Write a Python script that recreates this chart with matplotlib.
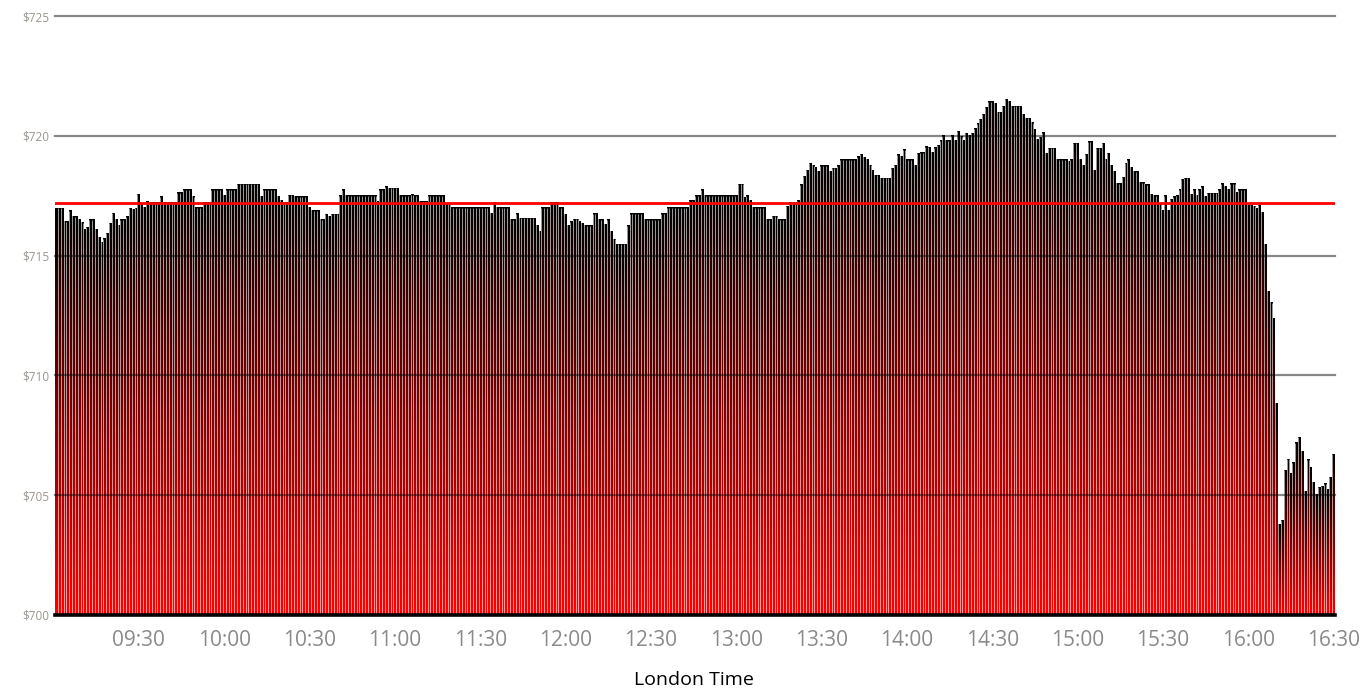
import numpy as np
import matplotlib
matplotlib.use("Agg")
import matplotlib.pyplot as plt
from matplotlib.colors import LinearSegmentedColormap

# Minute-by-minute prices, grouped by the half hour they end in
p_0930 = [716.97, 716.97, 716.97, 716.42, 716.42, 716.88, 716.63, 716.63, 716.49, 716.38,
          716.10, 716.18, 716.49, 716.49, 716.07, 715.75, 715.54, 715.71, 715.93, 716.35,
          716.77, 716.49, 716.24, 716.49, 716.49, 716.63, 716.97, 716.94, 716.97, 717.56]
p_1000 = [717.15, 717.0, 717.25, 717.2, 717.2, 717.2, 717.2, 717.46, 717.2, 717.2,
          717.2, 717.2, 717.2, 717.63, 717.63, 717.74, 717.74, 717.74, 717.46, 717.0,
          717.0, 717.0, 717.2, 717.2, 717.2, 717.74, 717.74, 717.74, 717.74, 717.52]
p_1030 = [717.74, 717.74, 717.74, 717.74, 717.97, 717.97, 717.97, 717.97, 717.97, 717.97,
          717.97, 717.97, 717.46, 717.74, 717.74, 717.74, 717.74, 717.74, 717.46, 717.32,
          717.2, 717.2, 717.52, 717.52, 717.46, 717.46, 717.46, 717.46, 717.46, 717.0]
p_1100 = [716.87, 716.87, 716.87, 716.49, 716.49, 716.72, 716.65, 716.72, 716.72, 716.72,
          717.49, 717.74, 717.49, 717.49, 717.49, 717.49, 717.49, 717.49, 717.49, 717.49,
          717.49, 717.49, 717.49, 717.25, 717.74, 717.74, 717.88, 717.81, 717.81, 717.81]
p_1130 = [717.81, 717.49, 717.49, 717.49, 717.49, 717.53, 717.49, 717.49, 717.25, 717.25,
          717.25, 717.49, 717.49, 717.49, 717.49, 717.49, 717.49, 717.18, 717.18, 717.0,
          717.0, 717.0, 717.0, 717.0, 717.0, 717.0, 717.0, 717.0, 717.0, 717.0]
p_1200 = [717.0, 717.0, 717.0, 716.74, 717.22, 717.0, 717.0, 717.0, 717.0, 717.0,
          716.49, 716.49, 716.74, 716.55, 716.55, 716.55, 716.55, 716.55, 716.55, 716.24,
          716.0, 717.0, 717.0, 717.0, 717.22, 717.22, 717.22, 717.0, 717.0, 716.72]
p_1230 = [716.24, 716.42, 716.51, 716.51, 716.42, 716.35, 716.24, 716.24, 716.24, 716.74,
          716.74, 716.49, 716.49, 716.28, 716.49, 716.0, 715.68, 715.48, 715.48, 715.48,
          715.48, 716.24, 716.74, 716.74, 716.74, 716.74, 716.74, 716.49, 716.49, 716.49]
p_1300 = [716.49, 716.49, 716.49, 716.74, 716.74, 717.0, 717.0, 717.0, 717.0, 717.0,
          717.0, 717.0, 717.0, 717.28, 717.28, 717.49, 717.49, 717.74, 717.49, 717.49,
          717.49, 717.49, 717.49, 717.49, 717.49, 717.49, 717.49, 717.49, 717.49, 717.49]
p_1330 = [717.97, 717.97, 717.42, 717.49, 717.28, 717.0, 717.0, 717.0, 717.0, 717.0,
          716.49, 716.49, 716.65, 716.65, 716.49, 716.49, 716.49, 717.07, 717.22, 717.22,
          717.22, 717.28, 717.95, 718.32, 718.57, 718.85, 718.74, 718.68, 718.50, 718.74]
p_1400 = [718.74, 718.74, 718.50, 718.64, 718.64, 718.74, 718.99, 718.99, 718.99, 718.99,
          718.99, 718.99, 719.13, 719.23, 719.1, 719.0, 718.78, 718.57, 718.36, 718.36,
          718.22, 718.22, 718.22, 718.22, 718.64, 718.78, 719.2, 719.13, 719.41, 718.99]
p_1430 = [718.99, 718.99, 718.74, 719.27, 719.3, 719.3, 719.55, 719.5, 719.3, 719.5,
          719.6, 719.8, 720.0, 719.8, 719.8, 720.0, 719.8, 720.2, 719.95, 719.8,
          720.1, 720.0, 720.1, 720.3, 720.5, 720.7, 720.9, 721.2, 721.42, 721.42]
p_1500 = [721.35, 720.98, 720.98, 721.24, 721.52, 721.42, 721.24, 721.24, 721.24, 721.24,
          720.87, 720.73, 720.73, 720.55, 720.27, 719.85, 719.94, 720.13, 719.27, 719.48,
          719.48, 719.48, 718.99, 718.99, 718.99, 718.99, 718.92, 718.99, 719.69, 719.69]
p_1530 = [718.99, 718.74, 719.24, 719.75, 719.75, 718.57, 719.48, 719.48, 719.69, 718.99,
          719.27, 718.74, 718.50, 717.99, 717.99, 718.27, 718.85, 718.99, 718.69, 718.50,
          718.50, 718.04, 718.04, 717.95, 717.95, 717.57, 717.49, 717.49, 717.18, 716.88]
p_1600 = [717.49, 716.88, 717.36, 717.45, 717.49, 717.74, 718.18, 718.22, 718.22, 717.57,
          717.74, 717.5, 717.74, 717.88, 717.45, 717.6, 717.6, 717.6, 717.6, 717.74,
          717.99, 717.88, 717.74, 717.99, 717.99, 717.63, 717.74, 717.74, 717.74, 717.11]
p_1630 = [717.11, 717.07, 716.97, 717.11, 716.81, 715.48, 713.49, 713.04, 712.38, 708.84,
          703.76, 703.96, 706.05, 706.5, 705.91, 706.36, 707.19, 707.41, 706.84, 705.15,
          706.47, 706.15, 705.52, 705.05, 705.33, 705.38, 705.47, 705.22, 705.75, 706.71]

prices = np.array(p_0930 + p_1000 + p_1030 + p_1100 + p_1130 + p_1200 + p_1230 + p_1300 +
                  p_1330 + p_1400 + p_1430 + p_1500 + p_1530 + p_1600 + p_1630)
minutes = np.arange(1, len(prices) + 1)          # minutes after 09:00

tick_minutes = [30, 60, 90, 120, 150, 180, 210, 240, 270, 300, 330, 360, 390, 420, 450]
tick_labels = ["09:30", "10:00", "10:30", "11:00", "11:30", "12:00", "12:30", "13:00",
               "13:30", "14:00", "14:30", "15:00", "15:30", "16:00", "16:30"]
y_ticks = [700, 705, 710, 715, 720, 725]
y_labels = ["$700", "$705", "$710", "$715", "$720", "$725"]
ref_price = 717.2
base = 700

plt.rcParams["font.family"] = ["Open Sans", "DejaVu Sans"]

fig = plt.figure(figsize=(13.72, 6.89), dpi=100)
ax = fig.add_axes([55 / 1372, 74 / 689, 1280 / 1372, 599 / 689])

bar_w = 1.0
bars = ax.bar(minutes, prices - base, bottom=base, width=bar_w,
              color="none", edgecolor="none")
cmap = LinearSegmentedColormap.from_list("redblack", ["#ff0000", "#000000"])
grad = np.linspace(0, 1, 256).reshape(-1, 1)
for r in bars:
    x0, y0, w, h = r.get_x(), r.get_y(), r.get_width(), r.get_height()
    ax.imshow(grad, extent=[x0, x0 + w, y0, y0 + h], origin="lower",
              aspect="auto", cmap=cmap, interpolation="bilinear", zorder=2)

# thin light separations between neighbouring bars
gap_x = minutes[:-1] + bar_w / 2
gap_top = np.maximum(prices[:-1], prices[1:])
ax.vlines(gap_x, base, gap_top, colors="white", lw=0.5, alpha=0.85, zorder=2.5)

for yv in y_ticks[1:]:
    ax.axhline(yv, color="black", alpha=0.47, lw=1.6, zorder=3, clip_on=False)
ax.axhline(ref_price, color="#ff0000", lw=2.0, zorder=4)
ax.axhline(base, color="black", lw=2.6, zorder=5, clip_on=False)

ax.set_xlim(0.5, 450.5)
ax.set_ylim(700, 725)
for s in ax.spines.values():
    s.set_visible(False)

ax.set_yticks(y_ticks, labels=y_labels)
ax.tick_params(axis="y", length=0, pad=4, labelsize=8.5, labelcolor="#9b958f")
ax.set_xticks(tick_minutes, labels=tick_labels)
ax.tick_params(axis="x", length=0, pad=11, labelsize=15, labelcolor="#8a8a8a")

fig.text(694 / 1372, 1 - 680 / 689, "London Time", ha="center", va="center",
         fontsize=14, color="black")

fig.savefig("out.png", dpi=100)
